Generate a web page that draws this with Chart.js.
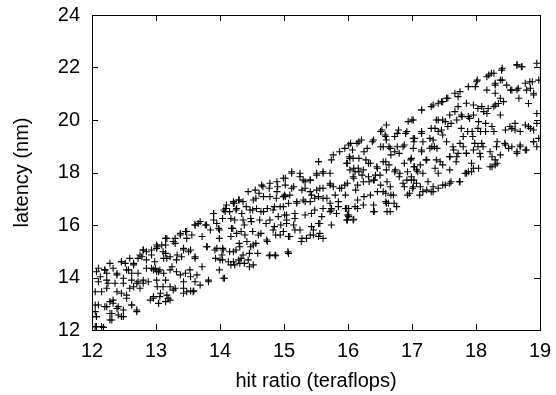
<!DOCTYPE html>
<html>
<head>
<meta charset="utf-8">
<script src="https://cdn.jsdelivr.net/npm/chart.js@4/dist/chart.umd.min.js"></script>
<style>
  html, body { margin: 0; padding: 0; background: #fff; }
  #wrap { width: 556px; height: 395px; }
</style>
</head>
<body>
<div id="wrap"><canvas id="scatterChart" width="556" height="395"></canvas></div>
<script>
// tick values on each axis
const xTicks = [12, 13, 14, 15, 16, 17, 18, 19];
const yTicks = [12, 14, 16, 18, 20, 22, 24];

// samples, one strip per hit ratio unit: [hit ratio, latency]
const strip12 = [
  [13.01, 15.24], [12.93, 15.05], [12.85, 14.98], [12.80, 15.05], [12.78, 14.79], [12.72, 14.73],
  [12.46, 14.60], [12.52, 14.54], [12.65, 14.54], [12.28, 14.54], [12.20, 14.29], [12.07, 14.22],
  [12.23, 14.16], [12.39, 14.16], [12.57, 14.29], [12.62, 14.16], [12.72, 14.16], [12.85, 14.35],
  [12.96, 14.29], [13.01, 14.22], [12.10, 13.84], [12.25, 13.78], [12.36, 13.78], [12.49, 13.78],
  [12.62, 13.90], [12.70, 13.78], [12.80, 13.90], [12.88, 13.84], [12.75, 13.59], [12.05, 13.46],
  [12.15, 13.46], [12.23, 13.59], [12.39, 13.46], [12.59, 13.59], [12.96, 13.21], [12.91, 13.14],
  [12.05, 12.95], [12.28, 13.08], [12.33, 13.02], [12.41, 12.89], [12.20, 12.89], [12.62, 12.95],
  [12.70, 12.70], [12.07, 12.51], [12.28, 12.63], [12.31, 12.38], [12.46, 12.51], [12.07, 12.13],
  [12.18, 12.10], [12.49, 12.76]
];
const strip13 = [
  [13.90, 16.44], [13.90, 16.19], [14.06, 16.57], [13.69, 16.13], [13.77, 16.00], [13.61, 16.00],
  [13.85, 15.81], [13.98, 15.87], [13.46, 15.75], [13.38, 15.62], [13.56, 15.62], [13.72, 15.56],
  [13.48, 15.49], [13.30, 15.49], [13.15, 15.49], [13.02, 15.17], [13.15, 15.24], [13.30, 15.30],
  [13.43, 15.11], [13.54, 15.05], [13.80, 15.17], [13.95, 15.11], [13.93, 14.73], [14.03, 14.86],
  [13.15, 14.92], [13.22, 14.79], [13.33, 14.86], [13.12, 14.73], [13.61, 14.73], [13.72, 14.41],
  [13.25, 14.41], [12.99, 14.35], [13.04, 14.22], [13.12, 14.16], [13.38, 14.10], [13.46, 14.16],
  [13.54, 14.03], [13.61, 13.84], [13.43, 13.84], [13.69, 13.71], [13.82, 13.84], [13.15, 13.90],
  [13.22, 13.65], [13.02, 13.65], [13.07, 13.40], [13.17, 13.33], [13.43, 13.40], [13.54, 13.49],
  [13.59, 13.49], [13.04, 13.01], [13.15, 13.08], [13.30, 13.59]
];
const strip14 = [
  [14.67, 17.46], [14.77, 17.40], [14.90, 17.46], [14.61, 17.21], [14.56, 17.02], [14.88, 17.02],
  [15.01, 17.14], [14.30, 16.95], [14.22, 16.83], [14.41, 16.70], [14.09, 16.63], [14.15, 16.51],
  [14.25, 16.57], [14.51, 16.57], [14.64, 16.51], [14.74, 16.63], [14.85, 16.70], [15.01, 16.38],
  [14.04, 16.25], [14.17, 16.25], [14.48, 16.25], [14.72, 16.06], [14.85, 15.94], [14.95, 16.00],
  [14.38, 16.00], [14.20, 15.87], [14.33, 15.75], [14.51, 15.75], [14.64, 15.68], [14.87, 15.62],
  [13.99, 15.81], [13.99, 15.49], [14.17, 15.56], [14.30, 15.30], [14.56, 15.30], [14.74, 15.37],
  [14.48, 15.17], [14.04, 15.11], [14.15, 14.98], [14.25, 15.05], [14.46, 14.92], [14.59, 14.92],
  [14.77, 14.83], [14.87, 14.83], [15.06, 14.98], [14.04, 14.67], [14.33, 14.73], [14.38, 14.54],
  [14.17, 14.48], [14.46, 14.41], [13.99, 14.29], [14.07, 13.97]
];
const strip15 = [
  [15.54, 18.41], [15.74, 18.48], [16.03, 18.54], [16.03, 18.10], [15.12, 17.97], [15.25, 17.97],
  [15.30, 17.71], [15.41, 17.71], [15.51, 17.97], [15.61, 18.03], [15.72, 17.59], [15.77, 17.46],
  [15.90, 17.40], [15.02, 17.78], [15.02, 17.52], [15.15, 17.46], [15.33, 17.40], [15.56, 17.40],
  [14.99, 17.08], [15.09, 17.14], [15.20, 16.83], [15.33, 16.89], [15.43, 17.14], [15.48, 17.02],
  [15.61, 17.02], [15.72, 16.83], [15.85, 16.89], [14.99, 16.70], [15.04, 16.38], [15.17, 16.25],
  [15.43, 16.44], [15.59, 16.32], [15.74, 16.57], [15.82, 16.44], [15.98, 16.63], [16.01, 16.38],
  [15.04, 16.06], [15.15, 16.00], [15.25, 15.81], [15.43, 15.94], [15.56, 16.06], [15.74, 16.00],
  [14.99, 15.75], [15.09, 15.56], [15.27, 15.37], [15.35, 15.49], [15.46, 15.62], [15.54, 15.56],
  [15.61, 15.49], [15.07, 14.92]
];
const strip16 = [
  [16.51, 19.56], [16.59, 19.37], [16.77, 19.49], [16.90, 19.49], [17.03, 19.17], [16.04, 19.11],
  [16.17, 19.17], [16.38, 19.17], [16.51, 18.98], [16.64, 18.98], [16.77, 18.98], [16.88, 19.05],
  [16.07, 18.86], [16.25, 18.79], [16.30, 18.92], [16.02, 18.60], [16.17, 18.54], [16.67, 18.67],
  [16.80, 18.73], [15.99, 18.35], [16.28, 18.48], [16.35, 18.35], [16.59, 18.41], [16.64, 18.29],
  [16.88, 18.35], [16.98, 18.48], [17.03, 18.22], [16.09, 18.16], [16.17, 18.03], [16.46, 18.16],
  [16.74, 18.10], [16.93, 18.03], [16.22, 17.90], [16.43, 17.90], [16.80, 17.84], [16.09, 17.78],
  [16.33, 17.65], [16.41, 17.71], [16.61, 17.65], [15.99, 17.59], [16.15, 17.52], [16.51, 17.52],
  [17.03, 17.71], [17.01, 17.40], [16.88, 17.46], [16.12, 17.33], [16.46, 17.27], [16.59, 17.21],
  [16.67, 17.14], [16.93, 17.14], [15.96, 17.14], [16.15, 16.95], [16.25, 17.08], [16.35, 17.14],
  [16.59, 16.89], [16.72, 16.83], [15.96, 16.63], [16.15, 16.63], [16.41, 16.51], [16.61, 16.51],
  [15.99, 16.38], [16.09, 16.22], [15.99, 16.19]
];
const strip17 = [
  [17.56, 20.83], [17.72, 20.89], [17.85, 20.64], [17.48, 20.70], [17.41, 20.64], [17.30, 20.51],
  [17.15, 20.38], [17.72, 20.51], [17.67, 20.32], [18.03, 20.44], [17.90, 20.06], [17.77, 20.19],
  [17.00, 20.00], [17.38, 20.00], [17.48, 20.00], [17.56, 19.75], [17.61, 19.87], [17.30, 19.68],
  [17.15, 19.56], [17.41, 19.56], [17.48, 19.43], [17.77, 19.68], [17.87, 19.56], [18.03, 19.68],
  [17.95, 19.37], [17.80, 19.37], [17.04, 19.30], [17.17, 19.17], [17.33, 19.24], [17.28, 18.92],
  [17.35, 18.98], [17.15, 18.86], [17.64, 18.98], [17.80, 18.98], [18.03, 18.98], [17.59, 18.60],
  [17.72, 18.73], [17.85, 18.73], [16.99, 18.54], [17.22, 18.48], [17.38, 18.48], [17.48, 18.29],
  [17.69, 18.41], [17.59, 18.10], [17.85, 17.97], [17.93, 18.03], [17.04, 18.22], [17.09, 18.03],
  [17.17, 17.97], [17.41, 17.97], [16.99, 17.71], [17.07, 17.59], [17.25, 17.65], [17.33, 17.46],
  [17.48, 17.52], [17.61, 17.65], [17.74, 17.65], [17.17, 17.27], [16.96, 17.21], [17.12, 17.14],
  [17.30, 17.27]
];
const strip18 = [
  [18.64, 22.10], [18.72, 22.03], [18.41, 21.97], [18.95, 22.16], [18.20, 21.71], [18.28, 21.78],
  [18.02, 21.52], [18.41, 21.52], [18.30, 21.33], [17.99, 21.27], [18.17, 21.14], [18.54, 21.14],
  [18.64, 21.14], [18.77, 21.40], [18.88, 21.46], [18.98, 21.52], [18.85, 21.21], [18.90, 20.95],
  [18.67, 20.83], [18.30, 21.02], [18.43, 20.70], [18.35, 20.63], [18.28, 20.51], [18.82, 20.63],
  [18.38, 20.19], [17.96, 20.19], [18.12, 20.32], [18.17, 20.25], [18.95, 20.25], [18.04, 19.94],
  [18.15, 19.87], [18.61, 19.87], [18.77, 19.81], [18.85, 19.68], [18.56, 19.68], [18.25, 19.75],
  [18.46, 19.62], [17.94, 19.56], [18.07, 19.56], [18.15, 19.56], [18.28, 19.56], [18.90, 19.17],
  [18.98, 19.30], [18.09, 19.11], [18.33, 19.17], [18.46, 19.05], [18.56, 18.98], [18.69, 19.05],
  [18.77, 18.86], [18.64, 18.79], [17.96, 18.86], [18.07, 18.60], [18.25, 18.60], [18.30, 18.48],
  [17.96, 18.16], [18.04, 18.16], [18.25, 18.22], [18.33, 18.35]
];

// second reading pass over three wider windows: lower left, middle, upper right
const lowerWindow = [
  [14.10, 16.76], [14.21, 16.89], [14.26, 16.63], [14.08, 16.51], [13.90, 16.44], [13.66, 16.06],
  [13.61, 16.00], [13.79, 16.00], [13.95, 16.06], [13.38, 15.68], [13.48, 15.75], [13.17, 15.49],
  [13.27, 15.37], [13.09, 15.24], [12.80, 15.05], [13.01, 15.11], [13.11, 14.98], [12.75, 14.86],
  [12.93, 14.86], [12.59, 14.73], [12.46, 14.60], [12.33, 14.35], [12.20, 14.29], [12.10, 14.35],
  [12.93, 14.35], [13.06, 14.29], [13.22, 14.29], [13.32, 14.22], [13.53, 14.29], [13.64, 14.10],
  [13.82, 13.90], [14.05, 13.97], [14.23, 14.48], [14.29, 14.67], [14.00, 14.67], [14.13, 14.60],
  [13.92, 15.05], [14.05, 15.05], [14.21, 14.98], [13.79, 15.17], [13.43, 15.05], [13.51, 14.98],
  [13.61, 14.79], [13.17, 14.73], [13.32, 14.67], [13.40, 14.79], [12.98, 14.60], [12.85, 14.67],
  [12.65, 14.48], [12.54, 14.29], [12.39, 14.10], [12.23, 13.90], [12.13, 14.03], [12.49, 13.97],
  [12.72, 13.84], [12.80, 13.78], [13.01, 13.90], [13.11, 13.65], [13.27, 13.52], [13.43, 13.59],
  [13.48, 13.46], [13.58, 13.46], [13.06, 13.27], [12.96, 13.27], [13.19, 13.21], [13.04, 13.02],
  [13.22, 13.14], [12.65, 13.65], [12.54, 13.33], [12.46, 13.40], [12.33, 13.14], [12.23, 12.89],
  [12.39, 12.82], [12.54, 13.21], [12.62, 12.95], [12.70, 12.76], [12.10, 12.95], [12.05, 12.70],
  [12.07, 12.51], [12.31, 12.63], [12.41, 12.57], [12.49, 12.51], [12.28, 12.38], [12.05, 12.13],
  [12.15, 12.13]
];
const middleWindow = [
  [16.60, 19.81], [16.53, 19.62], [16.58, 19.43], [16.40, 19.24], [16.21, 19.24], [16.14, 19.11],
  [16.01, 19.05], [15.95, 18.92], [15.87, 18.79], [15.77, 18.67], [15.54, 18.41], [15.98, 18.35],
  [16.08, 18.54], [16.16, 18.16], [16.11, 18.03], [16.24, 18.10], [16.32, 18.35], [16.45, 18.22],
  [16.55, 18.41], [16.60, 18.10], [16.50, 17.90], [16.40, 17.71], [16.32, 17.84], [16.24, 17.65],
  [16.08, 17.84], [15.95, 17.52], [15.87, 17.40], [15.72, 17.97], [15.61, 17.97], [15.51, 17.90],
  [15.41, 17.71], [15.33, 17.65], [15.25, 17.84], [15.12, 18.03], [14.99, 17.78], [14.89, 17.65],
  [14.78, 17.59], [14.65, 17.52], [14.55, 17.33], [14.44, 17.27], [14.29, 16.95], [14.36, 16.89],
  [14.21, 16.83], [14.52, 16.95], [14.68, 17.08], [14.78, 17.08], [14.89, 17.27], [15.02, 17.08],
  [15.12, 17.40], [15.28, 17.33], [15.41, 17.27], [15.51, 17.33], [15.61, 17.40], [15.72, 17.52],
  [15.80, 17.14], [15.67, 17.02], [15.54, 17.08], [15.41, 16.89], [15.30, 16.95], [15.20, 16.89],
  [15.07, 16.83], [14.94, 16.70], [14.83, 16.57], [14.68, 16.51], [14.57, 16.63], [14.47, 16.57],
  [14.34, 16.44], [14.23, 16.19], [14.36, 16.19], [14.49, 16.13], [14.62, 16.19], [14.78, 16.19],
  [14.91, 16.32], [15.04, 16.19], [15.17, 16.44], [15.33, 16.38], [15.48, 16.57], [15.61, 16.63],
  [15.74, 16.63], [15.85, 16.70], [16.01, 16.63], [16.11, 16.70], [16.24, 16.76], [16.40, 16.76],
  [16.60, 16.83], [16.66, 16.51], [16.40, 16.51], [16.01, 16.32], [15.98, 16.19], [16.08, 16.19],
  [15.72, 16.51], [15.54, 16.06], [15.46, 15.81], [15.56, 15.68], [15.41, 15.62], [15.28, 15.49],
  [15.17, 15.81], [15.07, 15.56], [14.94, 15.62], [14.83, 15.81], [14.73, 15.43], [14.60, 15.62],
  [14.52, 15.24], [14.42, 15.37], [14.31, 15.17], [14.36, 14.86], [14.44, 14.67], [14.52, 14.48],
  [14.31, 14.54], [14.21, 14.60], [14.78, 14.86], [14.86, 14.86], [15.07, 14.92], [14.26, 15.68],
  [14.39, 15.62], [14.18, 15.87]
];
const upperWindow = [
  [18.64, 22.10], [18.71, 22.03], [18.40, 21.90], [18.24, 21.78], [18.17, 21.65], [18.01, 21.46],
  [17.88, 21.27], [17.75, 21.08], [17.67, 21.02], [17.54, 20.83], [17.46, 20.70], [17.33, 20.57],
  [17.15, 20.38], [17.02, 20.00], [16.94, 19.94], [18.84, 21.46], [18.90, 21.02], [18.79, 21.14],
  [18.66, 21.21], [18.56, 21.14], [18.48, 21.33], [18.38, 21.52], [18.30, 21.40], [18.38, 20.83],
  [18.30, 20.57], [18.19, 20.44], [18.09, 20.51], [17.96, 20.57], [17.88, 20.13], [17.78, 20.13],
  [17.70, 20.00], [17.59, 20.19], [17.52, 19.94], [17.41, 20.00], [17.46, 19.62], [17.36, 19.68],
  [17.28, 19.30], [17.15, 19.49], [17.02, 19.30], [16.92, 19.56], [16.79, 19.62], [16.73, 19.37],
  [16.60, 19.24], [16.55, 18.98], [16.66, 18.92], [16.73, 18.79], [16.86, 18.98], [17.02, 18.92],
  [17.15, 18.79], [17.31, 18.98], [17.39, 18.92], [17.54, 19.17], [17.65, 18.86], [17.75, 19.11],
  [17.85, 18.73], [17.98, 19.11], [18.11, 18.98], [18.22, 18.79], [18.32, 18.98], [18.45, 19.11],
  [18.53, 19.75], [18.61, 19.62], [18.69, 19.56], [18.82, 19.75], [18.90, 19.62], [18.95, 19.87],
  [18.69, 18.98], [18.79, 18.86], [18.90, 19.17], [18.95, 18.98], [18.64, 18.73], [18.51, 18.92],
  [18.38, 18.67], [18.30, 18.29], [18.22, 18.22], [18.06, 18.73], [17.93, 18.35], [17.88, 18.03],
  [17.83, 17.97], [17.75, 17.65], [17.59, 17.59], [17.52, 17.52], [17.41, 17.40], [17.33, 17.27],
  [17.23, 17.33], [17.13, 17.46], [17.02, 17.46], [16.92, 17.71], [16.81, 17.97], [16.73, 18.03],
  [16.66, 17.46], [16.55, 17.27], [16.71, 17.14], [16.63, 16.83], [16.76, 16.70], [16.86, 17.59],
  [17.23, 18.48], [17.13, 18.29], [17.07, 18.10], [16.99, 17.84], [17.59, 18.60], [17.70, 18.60],
  [17.44, 18.41], [17.36, 18.16]
];

const allPoints = [].concat(strip12, strip13, strip14, strip15, strip16, strip17, strip18,
  lowerWindow, middleWindow, upperWindow).map(p => ({ x: p[0], y: p[1] }));

const FONT = 'Liberation Sans, Arial, Helvetica, sans-serif';

// gnuplot style frame with ticks pointing inwards on all four sides
const framePlugin = {
  id: 'frame',
  afterDraw(chart) {
    const { ctx, chartArea: a, scales } = chart;
    const len = 6;
    ctx.save();
    ctx.strokeStyle = '#000';
    ctx.lineWidth = 1;
    ctx.beginPath();
    xTicks.forEach(v => {
      const px = Math.round(scales.x.getPixelForValue(v)) + 0.5;
      ctx.moveTo(px, a.bottom); ctx.lineTo(px, a.bottom - len);
      ctx.moveTo(px, a.top); ctx.lineTo(px, a.top + len);
    });
    yTicks.forEach(v => {
      const py = Math.round(scales.y.getPixelForValue(v)) + 0.5;
      ctx.moveTo(a.left, py); ctx.lineTo(a.left + len, py);
      ctx.moveTo(a.right, py); ctx.lineTo(a.right - len, py);
    });
    ctx.stroke();
    ctx.strokeRect(Math.round(a.left) + 0.5, Math.round(a.top) + 0.5,
      Math.round(a.right - a.left), Math.round(a.bottom - a.top));
    ctx.restore();
  }
};

new Chart(document.getElementById('scatterChart').getContext('2d'), {
  type: 'scatter',
  data: {
    datasets: [{
      label: 'samples',
      data: allPoints,
      pointStyle: 'cross',
      pointRadius: 3.5,
      pointBorderWidth: 1.1,
      pointBorderColor: '#000',
      pointBackgroundColor: '#000'
    }]
  },
  plugins: [framePlugin],
  options: {
    responsive: false,
    animation: false,
    layout: { padding: { left: 0, right: 16, top: 15, bottom: 0 } },
    plugins: {
      legend: { display: false },
      tooltip: { enabled: false }
    },
    scales: {
      x: {
        type: 'linear',
        min: 12, max: 19,
        afterBuildTicks: s => { s.ticks = xTicks.map(v => ({ value: v })); },
        afterFit: s => { s.height = 65; s.paddingLeft = 0; s.paddingRight = 0; },
        border: { display: false },
        grid: { display: false, drawTicks: false },
        ticks: { color: '#000', padding: 9, font: { family: FONT, size: 20 } },
        title: {
          display: true, text: 'hit ratio (teraflops)', color: '#000',
          padding: { top: 2, bottom: 2 }, font: { family: FONT, size: 20 }
        }
      },
      y: {
        type: 'linear',
        min: 12, max: 24,
        afterBuildTicks: s => { s.ticks = yTicks.map(v => ({ value: v })); },
        afterFit: s => { s.width = 92; s.paddingTop = 0; s.paddingBottom = 0; },
        border: { display: false },
        grid: { display: false, drawTicks: false },
        ticks: { color: '#000', padding: 12, font: { family: FONT, size: 20 } },
        title: {
          display: true, text: 'latency (nm)', color: '#000',
          padding: { top: 10, bottom: 10 }, font: { family: FONT, size: 20 }
        }
      }
    }
  }
});
</script>
</body>
</html>
